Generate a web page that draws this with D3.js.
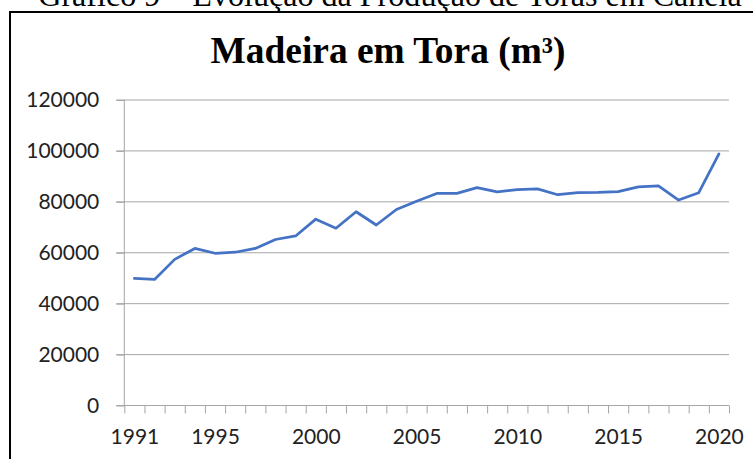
<!DOCTYPE html>
<html>
<head>
<meta charset="utf-8">
<script src="https://cdn.jsdelivr.net/npm/d3@7"></script>
<style>
  html, body { margin: 0; padding: 0; background: #fff; }
  svg { display: block; }
</style>
</head>
<body>
<script>
const caption = "Gráfico 9 – Evolução da Produção de Toras em Canela";
const title = "Madeira em Tora (m³)";
const years = [1991,1992,1993,1994,1995,1996,1997,1998,1999,2000,
               2001,2002,2003,2004,2005,2006,2007,2008,2009,2010,
               2011,2012,2013,2014,2015,2016,2017,2018,2019,2020];
const values = [49900,49500,57400,61700,59800,60200,61700,65200,66600,73200,
                69600,76100,70900,77000,80200,83300,83300,85600,83900,84800,
                85100,82800,83600,83700,84000,85900,86300,80700,83600,98800];
const yTicks = [0,20000,40000,60000,80000,100000,120000];
const xLabels = [1991,1995,2000,2005,2010,2015,2020];

const W = 753, H = 459;
const svg = d3.select("body").append("svg").attr("width", W).attr("height", H);
svg.append("rect").attr("width", W).attr("height", H).attr("fill", "#fff");

// caption (cut off at top)
const cap = svg.append("text")
  .attr("x", 390).attr("y", 6)
  .attr("text-anchor", "middle")
  .attr("font-family", "'Liberation Serif', 'Times New Roman', serif")
  .attr("font-size", 30)
  .attr("fill", "#000")
  .text(caption);
const capLen = cap.node().getComputedTextLength();
cap.attr("font-size", 30 * 704 / capLen);

// frame
svg.append("rect")
  .attr("x", 10).attr("y", 12)
  .attr("width", W + 20).attr("height", H + 20)
  .attr("fill", "#fff").attr("stroke", "#000").attr("stroke-width", 2);

// title
const t = svg.append("text")
  .attr("x", 388).attr("y", 63)
  .attr("text-anchor", "middle")
  .attr("font-family", "'Liberation Serif', 'Times New Roman', serif")
  .attr("font-weight", "bold")
  .attr("font-size", 37)
  .attr("fill", "#000")
  .text(title);
const tLen = t.node().getComputedTextLength();
t.attr("textLength", 355).attr("lengthAdjust", "spacingAndGlyphs");

const x0 = 124.3, x1 = 729, yTop = 100, yBot = 405.5;
const x = d3.scaleLinear().domain([years[0] - 0.5, years[years.length - 1] + 0.5]).range([x0, x1]);
const y = d3.scaleLinear().domain([0, 120000]).range([yBot, yTop]);

const gridColor = "#a6a6a6";

// gridlines
svg.append("g").selectAll("line").data(yTicks.filter(v => v > 0)).join("line")
  .attr("x1", x0 - 8).attr("x2", x1)
  .attr("y1", d => y(d)).attr("y2", d => y(d))
  .attr("stroke", gridColor).attr("stroke-width", 1);

// y axis
const yAxis = svg.append("g").attr("transform", `translate(${x0},0)`)
  .call(d3.axisLeft(y).tickValues(yTicks).tickSize(8).tickPadding(17).tickFormat(d3.format("d")));
yAxis.select(".domain").attr("stroke", gridColor).attr("d", `M0,${yBot}V${yTop}`);
yAxis.selectAll(".tick line").attr("stroke", gridColor);
yAxis.selectAll("text")
  .attr("font-family", "Lato, 'Open Sans', sans-serif")
  .attr("font-size", 21).attr("fill", "#222");

// x axis ticks at category boundaries
const bounds = d3.range(years[0] - 0.5, years[years.length - 1] + 1, 1);
const xAxis = svg.append("g").attr("transform", `translate(0,${yBot})`)
  .call(d3.axisBottom(x).tickValues(bounds).tickSize(8).tickFormat(""));
xAxis.select(".domain").attr("stroke", gridColor).attr("d", `M${x0 - 8},0H${x1}`);
xAxis.selectAll(".tick line").attr("stroke", gridColor);

// x labels
const xLab = svg.append("g").attr("transform", `translate(0,${yBot})`)
  .call(d3.axisBottom(x).tickValues(xLabels).tickSize(0).tickPadding(24).tickFormat(d3.format("d")));
xLab.select(".domain").remove();
xLab.selectAll("text")
  .attr("font-family", "Lato, 'Open Sans', sans-serif")
  .attr("font-size", 21).attr("fill", "#222");

// line
const line = d3.line().x((d, i) => x(years[i])).y(d => y(d));
svg.append("path").datum(values)
  .attr("d", line)
  .attr("fill", "none")
  .attr("stroke", "#4472C4")
  .attr("stroke-width", 2.75)
  .attr("stroke-linejoin", "round")
  .attr("stroke-linecap", "round");
</script>
</body>
</html>
